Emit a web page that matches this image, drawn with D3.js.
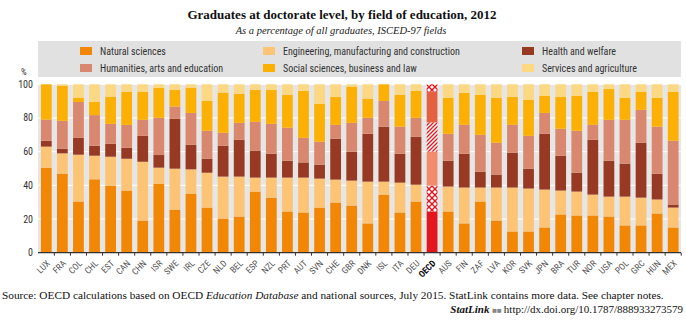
<!DOCTYPE html>
<html>
<head>
<meta charset="utf-8">
<script src="https://cdn.jsdelivr.net/npm/d3@7"></script>
<style>
  body { margin: 0; background: #fff; }
  svg { display: block; }
  .narrow { font-family: "Liberation Sans Narrow", "Arial Narrow", "Roboto Condensed", sans-serif; }
</style>
</head>
<body>
<div id="chart"></div>
<script>
const countries = ["LUX","FRA","COL","CHL","EST","CAN","CHN","ISR","SWE","IRL","CZE","NLD","BEL","ESP","NZL","PRT","AUT","SVN","CHE","GBR","DNK","ISL","ITA","DEU","OECD","AUS","FIN","ZAF","LVA","KOR","SVK","JPN","BRA","TUR","NOR","USA","POL","GRC","HUN","MEX"];

const fields = ["Natural sciences", "Engineering, manufacturing and construction", "Health and welfare",
    "Humanities, arts and education", "Social sciences, business and law", "Services and agriculture"];

const naturalSciences = [50.5,47,30.4,43.6,39.8,36.9,19.1,41,25.6,35.1,26.8,20.3,21.5,36.3,32.7,24.5,23.9,26.8,29.8,28,17.4,34.5,23.9,30.4,24.4,24.5,17.4,30.4,19.1,12.6,12.6,15,22.7,22.1,22.1,21.5,16.2,16.2,23.3,15];
const engineering = [12.5,12,27.8,14,17.2,18.9,34.9,9.5,24.3,14.4,20.7,24.9,23.7,8.3,11.9,20.1,20.7,17.2,13.6,14.8,24.8,7.7,17.7,10,15.4,14.8,21.3,8.3,19.6,26.1,25.5,22.5,14.2,14.2,12.4,11.8,17.1,16.5,8.3,11.8];
const health = [3.5,2.7,10,5.9,7.7,6.5,15.4,7.5,29.6,14.6,8.3,18.3,21.9,16,14.2,10,9,8.3,24.3,17.2,28.4,32.6,17.2,28.4,20.2,15.3,20.1,9.4,7.7,20.7,11.8,33.1,20.7,11.2,32.6,21.3,19.6,32.6,15.3,1.8];
const humanities = [12.5,16.6,21.3,18.2,11.8,13.6,9.5,22.1,7.3,18.9,16.6,7.7,10,17.1,17.7,19.6,14.6,13.6,8.2,17.1,9.5,15.3,16,11.3,17.4,16,17.1,21.9,18.9,16.5,19.5,12.4,16,24.9,8.8,24.3,26,19.5,27.9,37.9];
const socialSciences = [21,20.9,2.6,8,16,19.6,16.6,17.7,9.8,15,17.7,23.9,17.2,19.1,20.1,19.5,27.9,22.5,16.6,21.3,11.2,9.9,18.9,16,18.2,21.3,19,23.7,26.6,16.6,21.3,10.1,18.9,20.7,19.6,18.3,13,10.7,17.1,29];
const services = [0,0.8,7.9,10.3,7.5,4.5,4.5,2.2,3.4,2,9.9,4.9,5.7,3.2,3.4,6.3,3.9,11.6,7.5,1.6,8.7,0,6.3,3.9,4.4,8.1,5.1,6.3,8.1,7.5,9.3,6.9,7.5,6.9,4.5,2.8,8.1,4.5,8.1,4.5];

const yTicks = [0, 20, 40, 60, 80, 100];

const colors = ["#f28705", "#fdc475", "#983a23", "#d9876e", "#fbb003", "#fdd882"];
const oecdFills = ["#e2161c", "url(#oecd-cross)", "#f38b6d", "url(#oecd-diag)", "#e4603e", "url(#oecd-cross)"];

const series = [naturalSciences, engineering, health, humanities, socialSciences, services];

const W = 686, H = 328;
const svg = d3.select("#chart").append("svg").attr("width", W).attr("height", H);

// patterns for the OECD bar
const defs = svg.append("defs");
const cross = defs.append("pattern").attr("id", "oecd-cross")
    .attr("patternUnits", "userSpaceOnUse").attr("width", 6).attr("height", 6);
cross.append("rect").attr("width", 6).attr("height", 6).attr("fill", "#fff");
cross.append("path").attr("d", "M0,0L6,6M6,0L0,6").attr("stroke", "#e2161c").attr("stroke-width", 1.4);
const diag = defs.append("pattern").attr("id", "oecd-diag")
    .attr("patternUnits", "userSpaceOnUse").attr("width", 4).attr("height", 4);
diag.append("rect").attr("width", 4).attr("height", 4).attr("fill", "#fff");
diag.append("path").attr("d", "M-1,5L5,-1M-1,1L1,-1M3,5L5,3").attr("stroke", "#e2161c").attr("stroke-width", 1.3);

// titles
svg.append("text").attr("x", 342).attr("y", 19).attr("text-anchor", "middle")
    .style("font-family", "'Liberation Serif', serif").style("font-weight", "bold").style("font-size", "13px")
    .attr("fill", "#111").text("Graduates at doctorate level, by field of education, 2012");
svg.append("text").attr("x", 341).attr("y", 34).attr("text-anchor", "middle")
    .style("font-family", "'Liberation Serif', serif").style("font-style", "italic").style("font-size", "10.5px")
    .attr("fill", "#222").text("As a percentage of all graduates, ISCED-97 fields");

// legend
svg.append("rect").attr("x", 38).attr("y", 41).attr("width", 643).attr("height", 36).attr("fill", "#e1e1e1");
const legendPos = [[80, 52], [263, 52], [522, 52], [80, 69], [263, 69], [522, 69]];
fields.forEach((f, i) => {
    const g = svg.append("g").attr("transform", `translate(${legendPos[i][0]},${legendPos[i][1]})`);
    g.append("rect").attr("x", 0).attr("y", -5).attr("width", 12).attr("height", 8).attr("fill", colors[i]);
    g.append("text").attr("class", "narrow").attr("x", 20).attr("y", 3)
        .style("font-size", "10px").attr("fill", "#333").text(f);
});

// scales
const x = d3.scaleBand().domain(countries).range([38.5, 681]).paddingInner(0.33).paddingOuter(0.15);
const y = d3.scaleLinear().domain([0, 100]).range([252.7, 84.3]);

// plot background + gridlines
svg.append("rect").attr("x", 38).attr("y", y(100)).attr("width", 643).attr("height", y(0) - y(100)).attr("fill", "#e6e6e6");
svg.append("g").selectAll("line").data(yTicks.filter(d => d > 0)).join("line")
    .attr("x1", 38).attr("x2", 681).attr("y1", d => y(d)).attr("y2", d => y(d))
    .attr("stroke", "#fff").attr("stroke-width", 1);

// stacked bars
const rows = countries.map((c, j) => {
    const r = { country: c };
    fields.forEach((f, i) => { r[f] = series[i][j]; });
    return r;
});
const stacked = d3.stack().keys(fields)(rows);

svg.append("g").selectAll("g").data(stacked).join("g")
    .each(function (layer, i) {
        d3.select(this).selectAll("rect").data(layer).join("rect")
            .attr("x", d => x(d.data.country))
            .attr("width", x.bandwidth())
            .attr("y", d => y(d[1]))
            .attr("height", d => y(d[0]) - y(d[1]))
            .attr("fill", d => d.data.country === "OECD" ? oecdFills[i] : colors[i]);
    });

// y axis labels
svg.append("g").selectAll("text").data(yTicks).join("text")
    .attr("class", "narrow").attr("x", 33).attr("y", d => y(d) + 3.5).attr("text-anchor", "end")
    .style("font-size", "10px").attr("fill", "#333").text(d => d);
svg.append("text").attr("class", "narrow").attr("x", 21).attr("y", 75)
    .style("font-size", "9px").attr("fill", "#333").text("%");

// x axis
const xAxis = svg.append("g").attr("transform", `translate(0,${y(0)})`);
xAxis.append("line").attr("x1", 38).attr("x2", 681).attr("stroke", "#333").attr("stroke-width", 1.2);
const step = x.step();
xAxis.selectAll("line.tick").data(countries).join("line").attr("class", "tick")
    .attr("x1", d => x(d) + x.bandwidth() + (step - x.bandwidth()) / 2)
    .attr("x2", d => x(d) + x.bandwidth() + (step - x.bandwidth()) / 2)
    .attr("y1", 0).attr("y2", 3).attr("stroke", "#333");
xAxis.selectAll("text").data(countries).join("text")
    .attr("class", "narrow")
    .attr("transform", d => `translate(${x(d) + x.bandwidth() / 2 + 2},9) rotate(-45)`)
    .attr("text-anchor", "end").attr("dy", "0.35em")
    .style("font-size", "9px").style("font-weight", d => d === "OECD" ? "bold" : "normal")
    .attr("fill", d => d === "OECD" ? "#111" : "#555").text(d => d);

// source note
const src = svg.append("text").attr("x", 2).attr("y", 299)
    .style("font-family", "'Liberation Serif', serif").style("font-size", "11.3px").attr("fill", "#111");
src.append("tspan").text("Source:  OECD calculations based on OECD ");
src.append("tspan").style("font-style", "italic").text("Education Database");
src.append("tspan").text(" and national sources, July 2015. StatLink contains more data. See chapter notes.");

const sl = svg.append("text").attr("x", 683).attr("y", 313).attr("text-anchor", "end")
    .style("font-family", "'Liberation Serif', serif").style("font-size", "11px").attr("fill", "#111");
sl.append("tspan").style("font-style", "italic").style("font-weight", "bold").text("StatLink ");
sl.append("tspan").attr("fill", "#888").style("font-size", "8px").text("\u25A0\u25A0 ");
sl.append("tspan").text("http://dx.doi.org/10.1787/888933273579");
</script>
</body>
</html>
